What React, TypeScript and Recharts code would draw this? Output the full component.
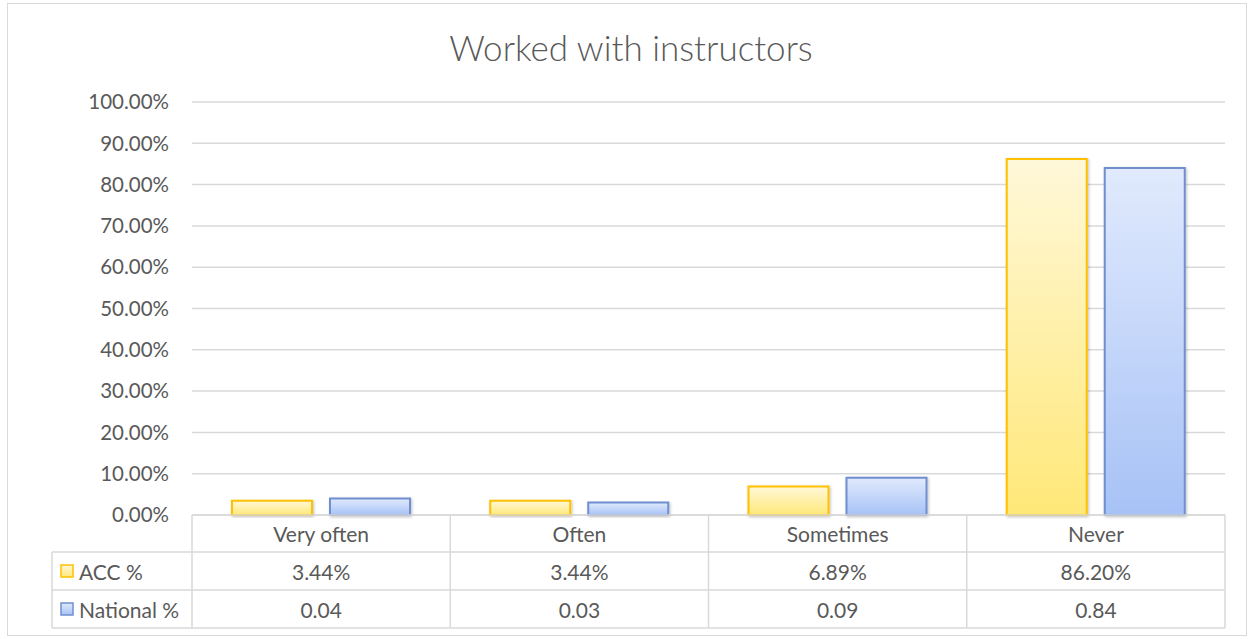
import React from "react";
import { BarChart, Bar, XAxis, YAxis, CartesianGrid } from "recharts";

// values
const categories = ["Very often", "Often", "Sometimes", "Never"];
const accPct = [3.44, 3.44, 6.89, 86.2];
const nationalShare = [0.04, 0.03, 0.09, 0.84];
const yTicks = [0, 0.1, 0.2, 0.3, 0.4, 0.5, 0.6, 0.7, 0.8, 0.9, 1];

const data = categories.map((c, i) => ({
  cat: c,
  acc: accPct[i] / 100,
  national: nationalShare[i],
}));

const W = 1253;
const H = 639;
const PLOT_LEFT = 192;
const PLOT_RIGHT = 1225;
const PLOT_TOP = 102;
const PLOT_BOTTOM = 515;
const BAND = (PLOT_RIGHT - PLOT_LEFT) / categories.length;
const ROW1 = 552;
const ROW2 = 590;
const ROW3 = 628;
const TABLE_LEFT = 52;

const FONT = "Lato, 'Open Sans', sans-serif";
const TXT = "#595959";
const LINE = "#d9d9d9";

function TableTick(props: any) {
  const { x, index } = props;
  const l = x - BAND / 2;
  const r = x + BAND / 2;
  const textStyle = { fontSize: 21, fill: TXT, fontFamily: FONT };
  return (
    <g>
      <line x1={l} x2={r} y1={PLOT_BOTTOM} y2={PLOT_BOTTOM} stroke={LINE} strokeWidth={1.5} />
      <line x1={l} x2={r} y1={ROW1} y2={ROW1} stroke={LINE} strokeWidth={1.5} />
      <line x1={l} x2={r} y1={ROW2} y2={ROW2} stroke={LINE} strokeWidth={1.5} />
      <line x1={l} x2={r} y1={ROW3} y2={ROW3} stroke={LINE} strokeWidth={1.5} />
      <line x1={r} x2={r} y1={PLOT_BOTTOM} y2={ROW3} stroke={LINE} strokeWidth={1.5} />
      {index === 0 && (
        <g>
          <line x1={l} x2={l} y1={PLOT_BOTTOM} y2={ROW3} stroke={LINE} strokeWidth={1.5} />
          <line x1={TABLE_LEFT} x2={l} y1={ROW1} y2={ROW1} stroke={LINE} strokeWidth={1.5} />
          <line x1={TABLE_LEFT} x2={l} y1={ROW2} y2={ROW2} stroke={LINE} strokeWidth={1.5} />
          <line x1={TABLE_LEFT} x2={l} y1={ROW3} y2={ROW3} stroke={LINE} strokeWidth={1.5} />
          <line x1={TABLE_LEFT} x2={TABLE_LEFT} y1={ROW1} y2={ROW3} stroke={LINE} strokeWidth={1.5} />
          <rect x={61} y={565} width={12} height={12} fill="url(#gAcc)" stroke="#ffc000" strokeWidth={1.5} />
          <text x={79} y={(ROW1 + ROW2) / 2} dominantBaseline="central" {...textStyle}>
            ACC %
          </text>
          <rect x={61} y={603} width={12} height={12} fill="url(#gNat)" stroke="#6f8fcf" strokeWidth={1.5} />
          <text x={79} y={(ROW2 + ROW3) / 2} dominantBaseline="central" {...textStyle}>
            National %
          </text>
        </g>
      )}
      <text x={x} y={(PLOT_BOTTOM + ROW1) / 2} textAnchor="middle" dominantBaseline="central" {...textStyle}>
        {categories[index]}
      </text>
      <text x={x} y={(ROW1 + ROW2) / 2} textAnchor="middle" dominantBaseline="central" {...textStyle}>
        {accPct[index].toFixed(2)}%
      </text>
      <text x={x} y={(ROW2 + ROW3) / 2} textAnchor="middle" dominantBaseline="central" {...textStyle}>
        {nationalShare[index].toFixed(2)}
      </text>
    </g>
  );
}

export default function App() {
  return (
    <div
      style={{
        position: "fixed",
        left: 0,
        top: 0,
        width: W,
        height: H,
        background: "#fff",
        fontFamily: FONT,
      }}
    >
      <div
        style={{
          position: "absolute",
          left: 7,
          top: 3,
          width: 1240,
          height: 633,
          border: "1.5px solid #d9d9d9",
          boxSizing: "border-box",
        }}
      />
      <div
        style={{
          position: "absolute",
          left: 0,
          top: 25,
          width: 1262,
          textAlign: "center",
          fontSize: 35,
          lineHeight: "44px",
          color: TXT,
          fontWeight: 300,
        }}
      >
        Worked with instructors
      </div>
      <div style={{ position: "absolute", left: 0, top: 0 }}>
        <BarChart
          width={W}
          height={H}
          data={data}
          margin={{ top: PLOT_TOP, right: W - PLOT_RIGHT, bottom: 4, left: 0 }}
          barSize={80}
          barGap={18}
        >
          <defs>
            <linearGradient id="gAcc" x1="0" y1="0" x2="0" y2="1">
              <stop offset="0%" stopColor="#fff8d9" />
              <stop offset="100%" stopColor="#ffe878" />
            </linearGradient>
            <linearGradient id="gNat" x1="0" y1="0" x2="0" y2="1">
              <stop offset="0%" stopColor="#e1eafd" />
              <stop offset="100%" stopColor="#a7c2f6" />
            </linearGradient>
            <filter id="shadow" x="-10%" y="-10%" width="130%" height="130%">
              <feDropShadow dx="1" dy="1" stdDeviation="1.5" floodColor="#000" floodOpacity="0.25" />
            </filter>
          </defs>
          <CartesianGrid vertical={false} stroke={LINE} strokeWidth={1.5} />
          <XAxis
            dataKey="cat"
            height={H - PLOT_BOTTOM - 4}
            axisLine={false}
            tickLine={false}
            interval={0}
            tick={<TableTick />}
          />
          <YAxis
            width={PLOT_LEFT}
            domain={[0, 1]}
            ticks={yTicks}
            axisLine={false}
            tickLine={false}
            tickMargin={17}
            tickFormatter={(v: number) => `${(v * 100).toFixed(2)}%`}
            tick={{ fontSize: 20.5, fill: TXT, fontFamily: FONT }}
          />
          <Bar
            dataKey="acc"
            fill="url(#gAcc)"
            stroke="#ffc000"
            strokeWidth={2}
            filter="url(#shadow)"
            isAnimationActive={false}
          />
          <Bar
            dataKey="national"
            fill="url(#gNat)"
            stroke="#6f8fcf"
            strokeWidth={2}
            filter="url(#shadow)"
            isAnimationActive={false}
          />
        </BarChart>
      </div>
    </div>
  );
}
